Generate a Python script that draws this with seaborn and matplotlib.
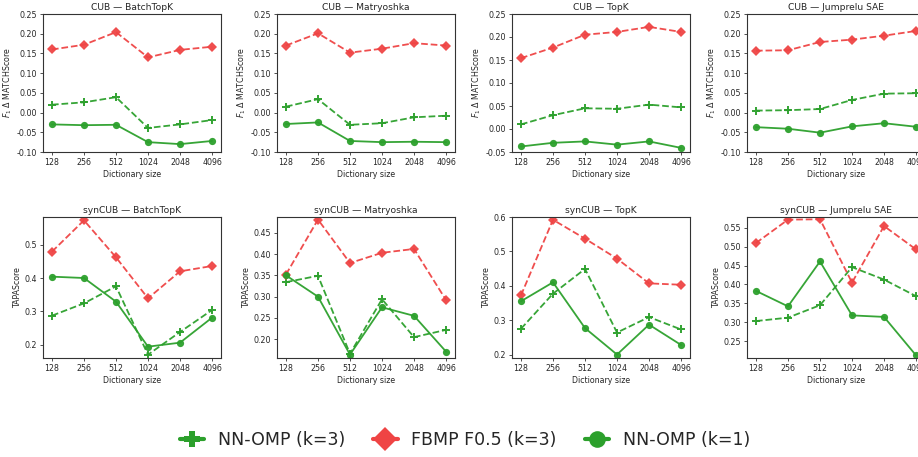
import matplotlib
matplotlib.use("Agg")
import matplotlib.pyplot as plt
from matplotlib.lines import Line2D
import seaborn as sns
import pandas as pd
import numpy as np

sns.set_style("white")
plt.rcParams['font.family'] = ['DejaVu Sans']

dict_sizes = ["128", "256", "512", "1024", "2048", "4096"]
methods = ["BatchTopK", "Matryoshka", "TopK", "Jumprelu SAE"]
series_names = ["NN-OMP (k=3)", "FBMP F0.5 (k=3)", "NN-OMP (k=1)"]

# CUB: F1 delta MATCHScore
cub_nnomp3 = {
    "BatchTopK": [0.020, 0.026, 0.039, -0.039, -0.030, -0.019],
    "Matryoshka": [0.015, 0.034, -0.031, -0.027, -0.012, -0.008],
    "TopK": [0.010, 0.030, 0.045, 0.044, 0.053, 0.047],
    "Jumprelu SAE": [0.005, 0.006, 0.009, 0.032, 0.048, 0.049],
}
cub_fbmp = {
    "BatchTopK": [0.160, 0.172, 0.204, 0.140, 0.159, 0.167],
    "Matryoshka": [0.170, 0.201, 0.152, 0.162, 0.176, 0.170],
    "TopK": [0.154, 0.177, 0.205, 0.211, 0.222, 0.211],
    "Jumprelu SAE": [0.157, 0.158, 0.179, 0.185, 0.195, 0.207],
}
cub_nnomp1 = {
    "BatchTopK": [-0.030, -0.032, -0.031, -0.075, -0.080, -0.072],
    "Matryoshka": [-0.029, -0.025, -0.072, -0.075, -0.074, -0.075],
    "TopK": [-0.038, -0.030, -0.027, -0.034, -0.027, -0.041],
    "Jumprelu SAE": [-0.037, -0.041, -0.051, -0.035, -0.027, -0.036],
}

# synCUB: TAPAScore
syn_nnomp3 = {
    "BatchTopK": [0.287, 0.324, 0.375, 0.170, 0.238, 0.304],
    "Matryoshka": [0.334, 0.349, 0.166, 0.294, 0.205, 0.222],
    "TopK": [0.275, 0.377, 0.449, 0.264, 0.309, 0.273],
    "Jumprelu SAE": [0.303, 0.312, 0.345, 0.446, 0.413, 0.369],
}
syn_fbmp = {
    "BatchTopK": [0.479, 0.573, 0.462, 0.339, 0.420, 0.436],
    "Matryoshka": [0.352, 0.481, 0.379, 0.403, 0.412, 0.292],
    "TopK": [0.372, 0.592, 0.537, 0.479, 0.407, 0.403],
    "Jumprelu SAE": [0.510, 0.572, 0.573, 0.405, 0.555, 0.493],
}
syn_nnomp1 = {
    "BatchTopK": [0.404, 0.400, 0.329, 0.194, 0.206, 0.281],
    "Matryoshka": [0.350, 0.300, 0.164, 0.275, 0.255, 0.171],
    "TopK": [0.355, 0.410, 0.277, 0.200, 0.287, 0.228],
    "Jumprelu SAE": [0.383, 0.342, 0.461, 0.318, 0.314, 0.212],
}

cub_ylims = {"BatchTopK": (-0.10, 0.25), "Matryoshka": (-0.10, 0.25),
             "TopK": (-0.05, 0.25), "Jumprelu SAE": (-0.10, 0.25)}
syn_ylims = {"BatchTopK": (0.16, 0.583), "Matryoshka": (0.156, 0.487),
             "TopK": (0.19, 0.60), "Jumprelu SAE": (0.205, 0.579)}
syn_ticks = {"BatchTopK": [0.2, 0.3, 0.4, 0.5],
             "Matryoshka": [0.20, 0.25, 0.30, 0.35, 0.40, 0.45],
             "TopK": [0.2, 0.3, 0.4, 0.5, 0.6],
             "Jumprelu SAE": [0.25, 0.30, 0.35, 0.40, 0.45, 0.50, 0.55]}

GREEN = "#2ca02c"
RED = "#ef4444"
styles = {
    "NN-OMP (k=3)": dict(color=GREEN, marker="P", ls="--"),
    "FBMP F0.5 (k=3)": dict(color=RED, marker="D", ls="--"),
    "NN-OMP (k=1)": dict(color=GREEN, marker="o", ls="-"),
}

W, H = 918, 457
fig = plt.figure(figsize=(W / 100, H / 100), dpi=100)

col_left = [43, 277, 512, 747]
ax_w = 178
rows = [(14, 152), (217, 358)]

FS = 5.7

def draw(ax, data3, dataf, data1, m, title, ylabel, ylim, yticks=None, fmt=None):
    x = np.arange(len(dict_sizes))
    for name, d in zip(series_names, [data3, dataf, data1]):
        st = styles[name]
        sns.lineplot(x=x, y=d[m], ax=ax, color=st["color"], marker=st["marker"],
                     linestyle=st["ls"], markersize=5.2, linewidth=1.3,
                     markeredgewidth=0, alpha=0.95, legend=False)
    ax.set_xlim(-0.28, 5.28)
    ax.set_ylim(*ylim)
    ax.set_xticks(x)
    ax.set_xticklabels(dict_sizes)
    if yticks is not None:
        ax.set_yticks(yticks)
    if fmt:
        ax.yaxis.set_major_formatter(matplotlib.ticker.FormatStrFormatter(fmt))
    ax.set_title(title, fontsize=6.6, pad=3)
    ax.set_xlabel("Dictionary size", fontsize=FS, labelpad=2)
    ax.set_ylabel(ylabel, fontsize=FS, labelpad=1.5)
    ax.tick_params(axis="both", labelsize=FS, length=2.5, width=0.6, pad=2,
                   bottom=True, left=True, color="#333333")
    for s in ax.spines.values():
        s.set_color("#333333")
        s.set_linewidth(0.8)

for i, m in enumerate(methods):
    top, bot = rows[0]
    ax = fig.add_axes([col_left[i] / W, 1 - bot / H, ax_w / W, (bot - top) / H])
    lo, hi = cub_ylims[m]
    ticks = np.round(np.arange(lo, hi + 1e-9, 0.05), 2)
    draw(ax, cub_nnomp3, cub_fbmp, cub_nnomp1, m, f"CUB — {m}",
         r"$F_1$ Δ MATCHScore", (lo, hi), ticks, "%.2f")

    top, bot = rows[1]
    ax = fig.add_axes([col_left[i] / W, 1 - bot / H, ax_w / W, (bot - top) / H])
    fmt = "%.1f" if m in ("BatchTopK", "TopK") else "%.2f"
    draw(ax, syn_nnomp3, syn_fbmp, syn_nnomp1, m, f"synCUB — {m}",
         "TAPAScore", syn_ylims[m], syn_ticks[m], fmt)

handles = [Line2D([0], [0], color=styles[n]["color"], marker=styles[n]["marker"],
                  ls="-", lw=3, markersize=12, markeredgewidth=0)
           for n in series_names]
fig.legend(handles, series_names, loc="center", bbox_to_anchor=(465 / W, 1 - 440 / H),
           ncol=3, frameon=False, fontsize=12.5, handlelength=1.4,
           handletextpad=0.8, columnspacing=1.6)

fig.savefig("out.png", dpi=100)
